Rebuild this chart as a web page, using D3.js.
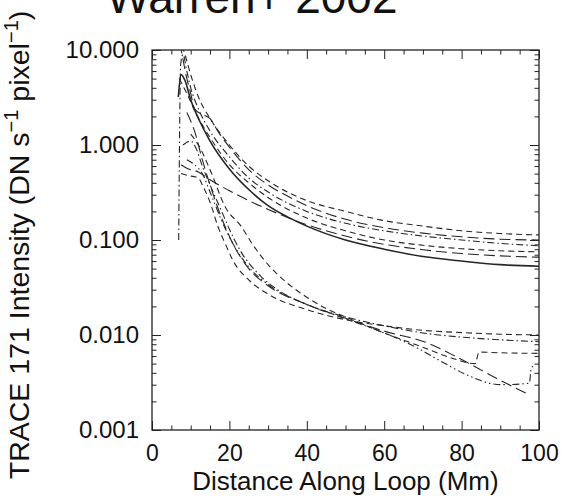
<!DOCTYPE html>
<html>
<head>
<meta charset="utf-8">
<script src="https://cdn.jsdelivr.net/npm/d3@7"></script>
<style>
  body { margin: 0; background: #fff; }
  svg { display: block; font-family: "Liberation Sans", Arial, sans-serif; }
</style>
</head>
<body>
<div id="chart"></div>
<script>
let width = 564,
    height = 503,
    margin = ({ top: 50, right: 25, bottom: 73, left: 152 });

// tick values / labels
const xTicks = [0, 20, 40, 60, 80, 100];
const yTicks = [0.001, 0.01, 0.1, 1, 10];
const yTickLabels = ["0.001", "0.010", "0.100", "1.000", "10.000"];

// loop profiles: [distance (Mm), intensity]
const solidA = [[6.8,3.2],[7.5,5.5],[8.5,4.8],[10,3.0],[12,1.9],[15,1.1],[20,0.56],[25,0.34],[30,0.23],[35,0.175],[40,0.14],[50,0.1],[60,0.08],[70,0.067],[80,0.06],[90,0.055],[100,0.053]];
const dashT1 = [[7.8,11],[8.5,9],[10,5.5],[12,3.2],[15,1.9],[20,1.0],[25,0.6],[30,0.42],[35,0.32],[40,0.26],[50,0.2],[60,0.16],[70,0.14],[80,0.125],[90,0.117],[100,0.113]];
const longT2 = [[7.2,12],[8,8],[9,5],[10,3.5],[11,2.4],[13,2.1],[15,1.9],[17,1.4],[20,0.95],[25,0.55],[30,0.38],[35,0.29],[40,0.23],[50,0.165],[60,0.135],[70,0.118],[80,0.108],[90,0.102],[100,0.1]];
const dashdotT3 = [[6.9,0.1],[7.1,1],[7.4,7],[8,9],[9,6],[10,4],[12,2.4],[15,1.4],[20,0.75],[25,0.45],[30,0.32],[40,0.2],[50,0.15],[60,0.125],[70,0.11],[80,0.1],[90,0.092],[100,0.087]];
const dashT4 = [[7,5],[8,4.2],[9,3.5],[11,2.3],[15,1.2],[20,0.62],[25,0.4],[30,0.28],[40,0.17],[50,0.125],[60,0.1],[70,0.088],[80,0.081],[90,0.077],[100,0.075]];
const longT5 = [[7.5,0.62],[9,0.57],[12,0.52],[15,0.43],[20,0.33],[25,0.26],[30,0.21],[40,0.145],[50,0.11],[60,0.09],[70,0.079],[80,0.072],[90,0.068],[100,0.066]];
const dashB1 = [[7.5,0.5],[9,0.48],[12,0.45],[13,0.38],[15,0.25],[17,0.14],[19,0.09],[21,0.06],[25,0.038],[30,0.027],[40,0.0185],[50,0.0145],[60,0.0125],[70,0.0112],[80,0.0106],[90,0.0102],[100,0.01]];
const dashdotB2 = [[8,1.0],[10,1.1],[11.5,0.9],[13,0.6],[15,0.38],[18,0.2],[20,0.13],[23,0.075],[28,0.042],[33,0.029],[40,0.021],[50,0.0155],[60,0.0125],[70,0.0105],[80,0.0095],[90,0.0089],[100,0.0085]];
const dashB3 = [[10,1.3],[12,1.0],[15,0.55],[19,0.22],[23,0.14],[26,0.09],[30,0.055],[34,0.038],[40,0.025],[45,0.019],[50,0.0155],[60,0.0105],[69,0.0077],[77,0.0058],[83.5,0.005],[84.5,0.0066],[90,0.0065],[100,0.0064]];
const longB4 = [[9,2.2],[11,1.4],[13,0.7],[15,0.38],[18,0.17],[21,0.09],[25,0.05],[30,0.033],[40,0.021],[50,0.015],[60,0.011],[71,0.0083],[79,0.0058],[89,0.0035],[97,0.0024]];
const dashdotdotB5 = [[9,0.7],[11,0.62],[13,0.5],[15,0.32],[18,0.16],[21,0.09],[25,0.052],[30,0.034],[40,0.021],[50,0.0148],[60,0.0105],[68,0.0075],[75,0.0052],[82,0.0037],[90,0.003],[97.5,0.0031],[98,0.0045],[99,0.0048]];

const profiles = [solidA, dashT1, longT2, dashdotT3, dashT4, longT5, dashB1, dashdotB2, dashB3, longB4, dashdotdotB5];
const dashes = [null, "6,4", "11,5", "7,3,1.5,3", "6,4", "11,5", "6,4", "7,3,1.5,3", "6,4", "11,5", "7,3,1.5,3,1.5,3"];

const svg = d3.select("#chart")
  .append("svg")
  .attr("width", width)
  .attr("height", height);

let x = d3.scaleLinear()
  .domain([0, 100])
  .range([margin.left, width - margin.right]);

let y = d3.scaleLog()
  .domain([0.001, 10])
  .range([height - margin.bottom, margin.top]);

// minor ticks: every 5 Mm, log 2..9 per decade
const xMinor = d3.range(0, 101, 5).filter(d => d % 20 !== 0);
const yMinor = [];
yTicks.slice(0, -1).forEach(t => { for (let k = 2; k <= 9; k++) yMinor.push(t * k); });

const axisColor = "#222";

function tickAxis(axis, tr, vals, size) {
  svg.append("g")
    .attr("transform", tr)
    .call(axis.tickValues(vals).tickSize(-size).tickFormat(""))
    .call(g => g.select(".domain").remove())
    .call(g => g.selectAll("line").attr("stroke", axisColor).attr("stroke-width", 1));
}

const bottomT = `translate(0,${y(0.001)})`, topT = `translate(0,${y(10)})`;
const leftT = `translate(${x(0)},0)`, rightT = `translate(${x(100)},0)`;
tickAxis(d3.axisBottom(x), bottomT, xTicks, 9);
tickAxis(d3.axisBottom(x), bottomT, xMinor, 4.5);
tickAxis(d3.axisTop(x), topT, xTicks, 9);
tickAxis(d3.axisTop(x), topT, xMinor, 4.5);
tickAxis(d3.axisLeft(y), leftT, yTicks, 9);
tickAxis(d3.axisLeft(y), leftT, yMinor, 4.5);
tickAxis(d3.axisRight(y), rightT, yTicks, 9);
tickAxis(d3.axisRight(y), rightT, yMinor, 4.5);

// frame
svg.append("rect")
  .attr("x", x(0)).attr("y", y(10))
  .attr("width", x(100) - x(0)).attr("height", y(0.001) - y(10))
  .attr("fill", "none").attr("stroke", axisColor).attr("stroke-width", 1.3);

// tick labels
svg.append("g")
  .attr("transform", bottomT)
  .call(d3.axisBottom(x).tickValues(xTicks).tickSize(0).tickPadding(15))
  .call(g => g.select(".domain").remove())
  .selectAll("text")
  .attr("font-size", 23).attr("font-family", "Liberation Sans, Arial, sans-serif").attr("fill", "#111");

svg.append("g")
  .attr("transform", leftT)
  .call(d3.axisLeft(y).tickValues(yTicks).tickSize(0).tickPadding(13).tickFormat((d, i) => yTickLabels[i]))
  .call(g => g.select(".domain").remove())
  .selectAll("text")
  .attr("font-size", 24).attr("font-family", "Liberation Sans, Arial, sans-serif").attr("fill", "#111");

// curves
svg.append("clipPath").attr("id", "plot-clip")
  .append("rect")
  .attr("x", x(0)).attr("y", y(10))
  .attr("width", x(100) - x(0)).attr("height", y(0.001) - y(10));

const line = d3.line()
  .x(d => x(d[0]))
  .y(d => y(d[1]))
  .curve(d3.curveMonotoneX);

svg.append("g")
  .attr("clip-path", "url(#plot-clip)")
  .selectAll("path")
  .data(profiles)
  .join("path")
  .attr("d", line)
  .attr("fill", "none")
  .attr("stroke", "#262626")
  .attr("stroke-width", (d, i) => i === 0 ? 1.6 : 1.1)
  .attr("stroke-dasharray", (d, i) => dashes[i]);

// axis titles
svg.append("text")
  .attr("x", (x(0) + x(100)) / 2)
  .attr("y", 490)
  .attr("text-anchor", "middle")
  .attr("font-size", 26)
  .attr("fill", "#111")
  .text("Distance Along Loop (Mm)");

const ylab = svg.append("text")
  .attr("transform", "translate(29,245) rotate(-90)")
  .attr("text-anchor", "middle")
  .attr("font-size", 28.5)
  .attr("fill", "#111");
ylab.append("tspan").text("TRACE 171 Intensity (DN s");
ylab.append("tspan").attr("dy", -11).attr("font-size", 20).text("\u22121");
ylab.append("tspan").attr("dy", 11).text(" pixel");
ylab.append("tspan").attr("dy", -11).attr("font-size", 20).text("\u22121");
ylab.append("tspan").attr("dy", 11).text(")");

// title, cut by the top edge as in the source
svg.append("text")
  .attr("x", 252)
  .attr("y", 13)
  .attr("text-anchor", "middle")
  .attr("font-size", 46)
  .attr("fill", "#111")
  .text("Warren+ 2002");
</script>
</body>
</html>
